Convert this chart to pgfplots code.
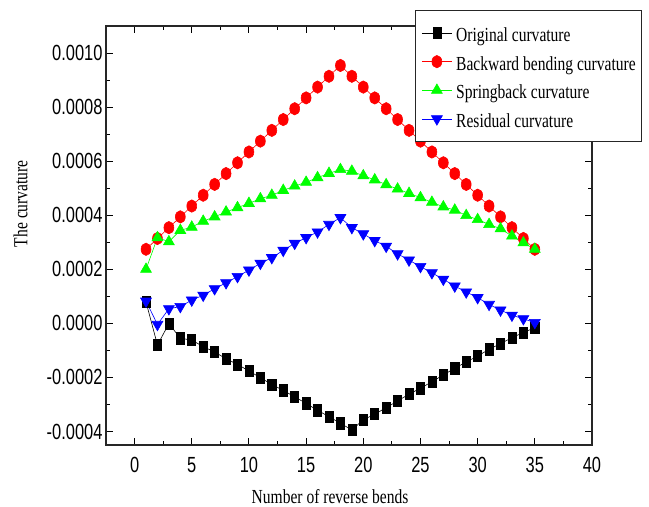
\documentclass[border=0pt]{standalone}
\usepackage{pgfplots}
\pgfplotsset{compat=1.18}
\usepackage{pgfplotstable}
\usepackage{fontspec}
\setmainfont{Liberation Serif}[FakeStretch=0.78]
\newfontfamily\tickfont{Liberation Sans}[FakeStretch=0.75]

\pgfplotstableread{
n orig back spring resid
1 0.000079 0.000274 0.000200 0.000082
2 -0.000080 0.000314 0.000317 -0.000004
3 -0.000001 0.000354 0.000302 0.000054
4 -0.000055 0.000394 0.000344 0.000062
5 -0.000062 0.000434 0.000356 0.000086
6 -0.000086 0.000474 0.000378 0.000104
7 -0.000106 0.000514 0.000394 0.000128
8 -0.000131 0.000554 0.000412 0.000150
9 -0.000152 0.000594 0.000428 0.000173
10 -0.000176 0.000634 0.000444 0.000197
11 -0.000201 0.000674 0.000461 0.000222
12 -0.000226 0.000714 0.000474 0.000243
13 -0.000248 0.000754 0.000492 0.000270
14 -0.000272 0.000794 0.000508 0.000296
15 -0.000296 0.000834 0.000522 0.000317
16 -0.000322 0.000874 0.000539 0.000338
17 -0.000345 0.000914 0.000555 0.000366
18 -0.000370 0.000954 0.000569 0.000391
19 -0.000394 0.000914 0.000563 0.000354
20 -0.000357 0.000874 0.000546 0.000331
21 -0.000336 0.000834 0.000531 0.000306
22 -0.000312 0.000794 0.000513 0.000285
23 -0.000287 0.000754 0.000497 0.000257
24 -0.000262 0.000714 0.000481 0.000234
25 -0.000240 0.000674 0.000465 0.000210
26 -0.000216 0.000634 0.000448 0.000187
27 -0.000191 0.000594 0.000431 0.000163
28 -0.000166 0.000554 0.000419 0.000138
29 -0.000143 0.000514 0.000399 0.000116
30 -0.000121 0.000474 0.000384 0.000095
31 -0.000096 0.000434 0.000366 0.000070
32 -0.000075 0.000394 0.000350 0.000049
33 -0.000053 0.000354 0.000323 0.000030
34 -0.000034 0.000314 0.000298 0.000017
35 -0.000016 0.000274 0.000274 0.000003
}\datatable

\begin{document}
\begin{tikzpicture}
\begin{axis}[
  scale only axis,
  width=486bp, height=419bp,
  xmin=-2.5, xmax=40,
  ymin=-0.00045, ymax=0.0011,
  xtick={0,5,...,40},
  ytick={-0.0004,-0.0002,0,0.0002,0.0004,0.0006,0.0008,0.0010},
  minor x tick num=1,
  minor y tick num=1,
  tick align=inside,
  major tick length=7bp,
  minor tick length=4bp,
  every tick/.style={black, line width=0.9bp},
  axis line style={line width=1.2bp, black!85},
  scaled y ticks=false,
  /pgf/number format/assume math mode=true,
  yticklabel style={/pgf/number format/.cd, fixed, fixed zerofill, precision=4},
  ticklabel style={font=\tickfont\fontsize{22pt}{22pt}\selectfont},
  xticklabel style={yshift=-9bp},
  xlabel={Number of reverse bends},
  ylabel={The curvature},
  label style={font=\fontsize{20pt}{20pt}\selectfont, inner sep=0pt},
  xlabel style={at={(axis description cs:0.461,-0.139)}, anchor=base},
  ylabel style={at={(axis description cs:-0.162,0.576)}, anchor=base, rotate=0},
  legend cell align=left,
  legend style={
    at={(0.636,1.038)}, anchor=north west,
    font=\fontsize{20pt}{20pt}\selectfont,
    draw=black!85, line width=1bp,
    inner xsep=4bp, inner ysep=8.2bp,
    row sep=0pt,
    nodes={text height=18bp, text depth=1bp, inner ysep=4.8bp, inner xsep=2bp},
    /tikz/every odd column/.style={column sep=2bp},
  },
  legend image code/.code={
    \path (0bp,0bp);
    \draw[mark repeat=2,mark phase=2]
      plot coordinates {(2bp,0bp) (17bp,0bp) (32bp,0bp)};
  },
  clip=false,
]
\addplot[black, line width=0.6bp, mark=square*, mark size=5.6bp,
  mark options={solid, fill=black, xscale=0.72}]
  table[x=n, y=orig] {\datatable};
\addlegendentry{Original curvature}
\addplot[red, line width=0.6bp, mark=*, mark size=6.2bp,
  mark options={solid, fill=red, xscale=0.8}]
  table[x=n, y=back] {\datatable};
\addlegendentry{Backward bending curvature}
\addplot[green, line width=0.6bp, mark=triangle*, mark size=6.3bp,
  mark options={solid, fill=green}]
  table[x=n, y=spring] {\datatable};
\addlegendentry{Springback curvature}
\addplot[blue, line width=0.6bp, mark=triangle*, mark size=6.3bp,
  mark options={solid, fill=blue, rotate=180}]
  table[x=n, y=resid] {\datatable};
\addlegendentry{Residual curvature}
\end{axis}
\pgfresetboundingbox
\path (current axis.south west) ++(-106bp,-62bp) coordinate (bbsw);
\path (current axis.north east) ++(57bp,26bp) coordinate (bbne);
\path (bbsw) rectangle (bbne);
\end{tikzpicture}
\end{document}
